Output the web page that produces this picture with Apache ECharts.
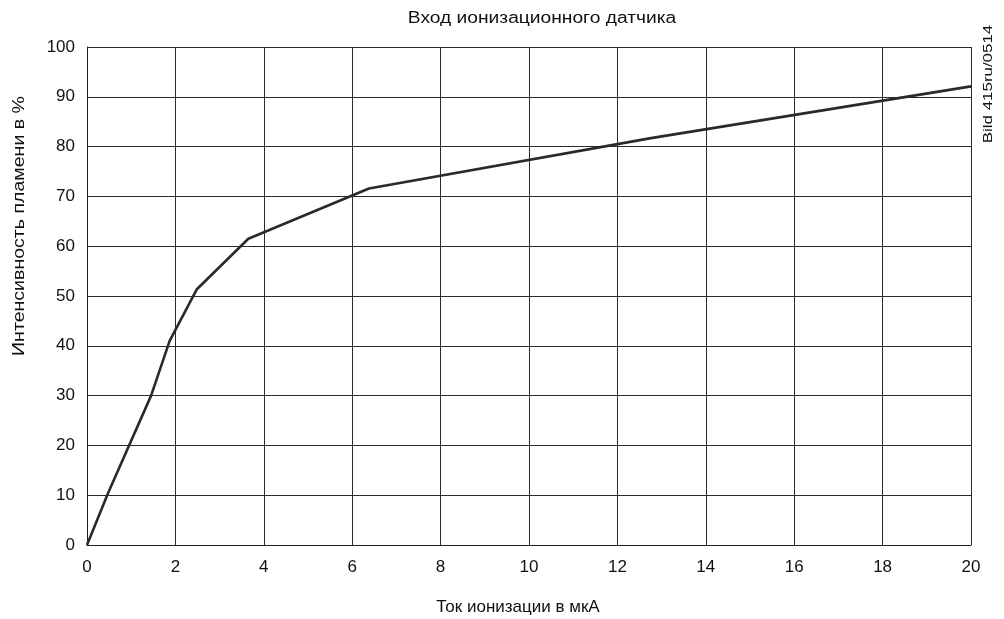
<!DOCTYPE html>
<html>
<head>
<meta charset="utf-8">
<script src="https://cdn.jsdelivr.net/npm/echarts@6/dist/echarts.min.js"></script>
<style>
html,body{margin:0;padding:0;background:#fff;}
#c{width:1004px;height:619px;}
</style>
</head>
<body>
<div id="c"></div>
<script>
var titleText = 'Вход ионизационного датчика';
var xName = 'Ток ионизации в мкА';
var yName = 'Интенсивность пламени в %';
var sideNote = 'Bild 415ru/0514';
var currentUA = [0, 0.48, 1.45, 1.87, 2.48, 3.65, 6.38, 12.76, 20];
var intensityPct = [0, 10.5, 30, 41, 51.3, 61.5, 71.6, 81.7, 92.1];

var font = '"Liberation Sans", Arial, sans-serif';
var chart = echarts.init(document.getElementById('c'));
var data = currentUA.map(function (x, i) { return [x, intensityPct[i]]; });
chart.setOption({
  animation: false,
  backgroundColor: '#fff',
  grid: { left: 87, right: 33, top: 47, bottom: 74 },
  xAxis: {
    type: 'value', min: 0, max: 20, interval: 2,
    axisLine: { show: true, lineStyle: { color: '#222', width: 1 } },
    axisTick: { show: false },
    axisLabel: { fontFamily: font, fontSize: 17, color: '#111', margin: 14 },
    splitLine: { show: true, lineStyle: { color: '#2a2a2a', width: 1 } }
  },
  yAxis: {
    type: 'value', min: 0, max: 100, interval: 10,
    axisLine: { show: true, lineStyle: { color: '#222', width: 1 } },
    axisTick: { show: false },
    axisLabel: { fontFamily: font, fontSize: 17, color: '#111', margin: 12 },
    splitLine: { show: true, lineStyle: { color: '#2a2a2a', width: 1 } }
  },
  graphic: [
    {
      type: 'text', x: 542, y: 19, scaleX: 1.2,
      style: { text: titleText, font: '16px ' + font, fill: '#111', textAlign: 'center', textVerticalAlign: 'middle' }
    },
    {
      type: 'text', x: 518, y: 607, scaleX: 1.0,
      style: { text: xName, font: '17px ' + font, fill: '#111', textAlign: 'center', textVerticalAlign: 'middle' }
    },
    {
      type: 'text', x: 19, y: 226, rotation: Math.PI / 2, scaleX: 1.15,
      style: { text: yName, font: '17px ' + font, fill: '#111', textAlign: 'center', textVerticalAlign: 'middle' }
    },
    {
      type: 'text', x: 988, y: 84, rotation: Math.PI / 2, scaleX: 1.3,
      style: { text: sideNote, font: '13px ' + font, fill: '#111', textAlign: 'center', textVerticalAlign: 'middle' }
    }
  ],
  series: [{
    type: 'line', data: data, showSymbol: false, symbol: 'none',
    lineStyle: { color: '#2a2a2a', width: 2.6 }
  }]
});
</script>
</body>
</html>
